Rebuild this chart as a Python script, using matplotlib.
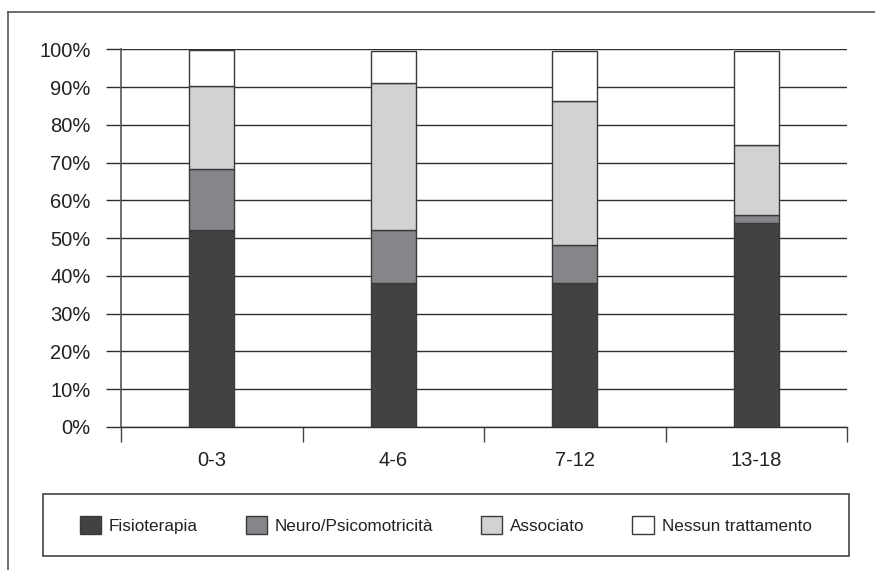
import matplotlib
matplotlib.use('Agg')
import matplotlib.pyplot as plt
from matplotlib.patches import Rectangle
from matplotlib.lines import Line2D
from matplotlib.ticker import FixedLocator, PercentFormatter

plt.rcParams['font.family'] = ['Liberation Sans', 'DejaVu Sans']

categories = ['0-3', '4-6', '7-12', '13-18']
series_names = ['Fisioterapia', 'Neuro/Psicomotricità', 'Associato', 'Nessun trattamento']
fisioterapia = [52.2, 38.1, 38.1, 54.1]
neuro = [16.1, 14.1, 10.1, 2.1]
associato = [22.0, 38.8, 38.0, 18.4]
nessuno = [9.5, 8.6, 13.4, 24.9]
colors = ['#414243', '#858689', '#d1d2d4', '#ffffff']
y_ticks = [0, 10, 20, 30, 40, 50, 60, 70, 80, 90, 100]

fig = plt.figure(figsize=(8.75, 5.7), dpi=100)
ax = fig.add_axes([0.1383, 0.2509, 0.8297, 0.6626])

x = list(range(len(categories)))
bottom = [0.0] * len(categories)
for name, vals, col in zip(series_names, [fisioterapia, neuro, associato, nessuno], colors):
    ax.bar(x, vals, width=0.247, bottom=bottom, color=col, edgecolor='#3a3a3a',
           linewidth=1.0, label=name, zorder=3)
    bottom = [b + v for b, v in zip(bottom, vals)]

ax.set_xlim(-0.5, len(categories) - 0.5)
ax.set_ylim(0, 100)
ax.yaxis.set_major_locator(FixedLocator(y_ticks))
ax.yaxis.set_major_formatter(PercentFormatter(decimals=0))
ax.grid(True, 'major', 'y', color='#2e2e2e', lw=1.0, zorder=0)

# category boundaries carry the tick marks, names sit in between
ax.xaxis.set_major_locator(FixedLocator([i - 0.5 for i in range(len(categories) + 1)]))
ax.xaxis.set_minor_locator(FixedLocator(x))
ax.set_xticklabels([], minor=False)
ax.set_xticklabels(categories, minor=True)
ax.tick_params(axis='x', which='major', length=11, width=1.0, color='#444444', direction='out')
ax.tick_params(axis='x', which='minor', length=0, pad=17, labelsize=14.5, labelcolor='#222222')
ax.tick_params(axis='y', length=11, width=1.0, color='#2e2e2e', direction='out', pad=11,
               labelsize=14.5, labelcolor='#222222')

for side in ['top', 'right']:
    ax.spines[side].set_visible(False)
ax.spines['left'].set_color('#555555')
ax.spines['left'].set_linewidth(1.2)
ax.spines['bottom'].set_color('#2e2e2e')
ax.spines['bottom'].set_linewidth(1.0)

# legend box
fig.patches.append(Rectangle((0.0488, 0.0251), 0.921, 0.108, transform=fig.transFigure,
                             facecolor='white', edgecolor='#444444', linewidth=1.2))
handles, labels = ax.get_legend_handles_labels()
fig.legend(handles, labels, loc='center', bbox_to_anchor=(0.0488 + 0.921 / 2, 0.0251 + 0.108 / 2),
           ncol=4, frameon=False, fontsize=12.3, columnspacing=2.8, handletextpad=0.45,
           handlelength=1.25, handleheight=1.25, labelcolor='#222222')

# outer frame (top and left edge only visible)
fig.add_artist(Line2D([8 / 875, 8 / 875], [0, 1 - 12 / 570], transform=fig.transFigure,
                      color='#555555', lw=1.2))
fig.add_artist(Line2D([8 / 875, 1], [1 - 12 / 570, 1 - 12 / 570], transform=fig.transFigure,
                      color='#555555', lw=1.2))

plt.savefig('out.png', dpi=100)
